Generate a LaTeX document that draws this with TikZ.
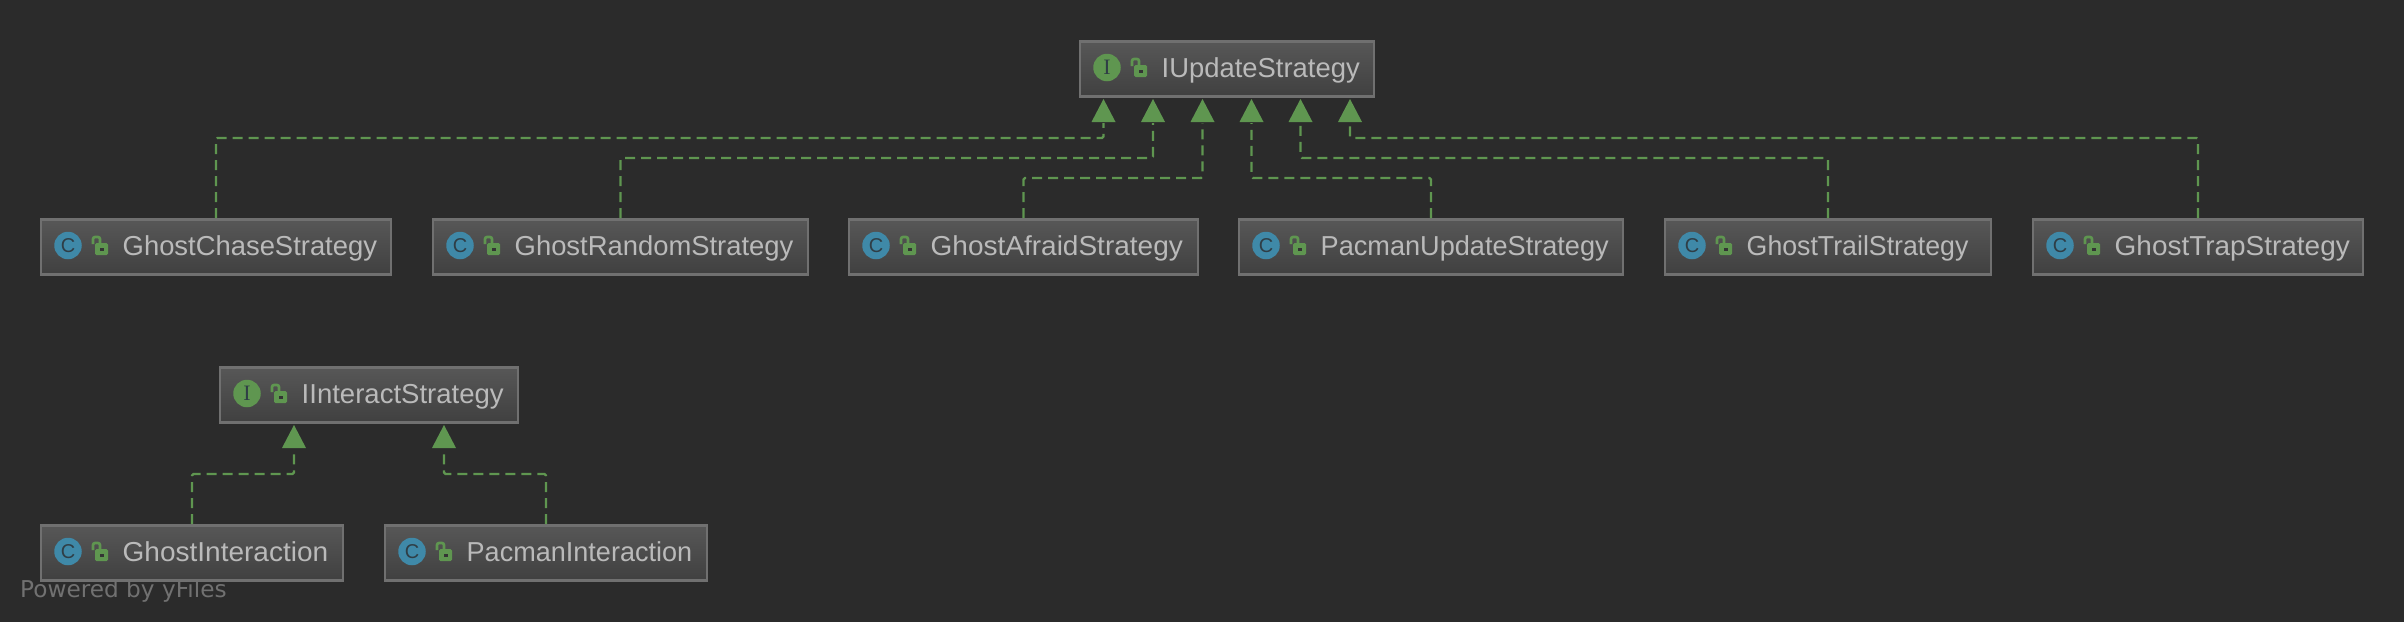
\documentclass[tikz,border=0pt]{standalone}
\usepackage{fontspec}
\setmainfont{Liberation Sans}
\newfontfamily\pwfont{DejaVu Sans}
\newfontfamily\ifont{Liberation Serif}
\usetikzlibrary{arrows.meta,calc}
\definecolor{bgc}{HTML}{2B2B2B}
\definecolor{edgegreen}{HTML}{5F9650}
\definecolor{boxline}{HTML}{707070}
\definecolor{boxtop}{HTML}{575757}
\definecolor{boxbot}{HTML}{404040}
\definecolor{labelc}{HTML}{BABABA}
\definecolor{cblue}{HTML}{3F89A8}
\definecolor{iconink}{HTML}{2F3E46}
\tikzset{
  x=1pt,y=-1pt,
  umlbox/.style={draw=boxline,line width=2.6pt,top color=boxtop,bottom color=boxbot,minimum height=55pt,inner sep=0pt,rectangle},
  umllabel/.style={inner sep=0pt,anchor=base west,text=labelc,font=\fontsize{27.4}{30}\selectfont},
  badge/.style={circle,inner sep=0pt,minimum size=27.5pt,text=iconink},
  realize/.style={draw=edgegreen,line width=2.4pt,dash pattern=on 10pt off 6pt,rounded corners=1.5pt},
  tiphead/.style={fill=edgegreen,draw=none},
  lockbody/.style={fill=edgegreen,draw=none,rounded corners=1.5pt},
  lockarm/.style={draw=edgegreen,line width=2.6pt,rounded corners=2pt}
}
\newcommand{\umlnode}[8]{% name, left, right, top, badge colour, letter, label, label x-scale
  \node[umlbox,minimum width={#3-#2}] (#1) at ({(#2+#3)/2},{#4+28}) {};
  \node[badge,fill=#5] (#1b) at ({#2+27},{#4+26.5}) {#6};
  \fill[lockbody] ({#2+54},{#4+24}) rectangle ({#2+67},{#4+36});
  \draw[lockarm] ({#2+52},{#4+25}) -- ({#2+52},{#4+18}) -- ({#2+59},{#4+18}) -- ({#2+59},{#4+24});
  \fill[bgc!60!boxbot] ({#2+59},{#4+28.5}) rectangle ({#2+62.5},{#4+31.5});
  \node[umllabel] (#1t) at ({#2+81.5},{#4+36}) {\scalebox{#8}[1]{#7}};
}
\newcommand{\tiparrow}[3]{% name, x, y of the tip
  \coordinate (#1) at (#2,{#3+24});
  \fill[tiphead] (#2,#3) -- ({#2+12},{#3+23}) -- ({#2-12},{#3+23}) -- cycle;
}
\newcommand{\letterI}{\ifont\fontsize{22}{22}\selectfont I}
\newcommand{\letterC}{\fontsize{20}{20}\selectfont C}
\begin{document}
\begin{tikzpicture}
\useasboundingbox (0,0) rectangle (2404,621.7);
\fill[bgc] (-5,-5) rectangle (2410,630);

\umlnode{iu}{1080}{1374}{41}{edgegreen}{\letterI}{IUpdateStrategy}{1}
\umlnode{gc}{41}{391}{219}{cblue}{\letterC}{GhostChaseStrategy}{1}
\umlnode{gr}{433}{808}{219}{cblue}{\letterC}{GhostRandomStrategy}{1}
\umlnode{ga}{849}{1198}{219}{cblue}{\letterC}{GhostAfraidStrategy}{1.022}
\umlnode{pu}{1239}{1623}{219}{cblue}{\letterC}{PacmanUpdateStrategy}{0.99}
\umlnode{gt}{1665}{1991}{219}{cblue}{\letterC}{GhostTrailStrategy}{0.975}
\umlnode{tr}{2033}{2363}{219}{cblue}{\letterC}{GhostTrapStrategy}{1.02}
\umlnode{ii}{220}{518}{367}{edgegreen}{\letterI}{IInteractStrategy}{1.005}
\umlnode{gi}{41}{343}{525}{cblue}{\letterC}{GhostInteraction}{1.022}
\umlnode{pi}{385}{707}{525}{cblue}{\letterC}{PacmanInteraction}{0.987}

\tiparrow{ta}{1103.5}{99}
\tiparrow{tb}{1153}{99}
\tiparrow{tc}{1202.5}{99}
\tiparrow{td}{1251.5}{99}
\tiparrow{te}{1300.5}{99}
\tiparrow{tf}{1350}{99}
\tiparrow{tg}{294}{425}
\tiparrow{th}{444}{425}

\draw[realize] (gc.north) |- (ta|-0,138) -- (ta);
\draw[realize] (gr.north) |- (tb|-0,158) -- (tb);
\draw[realize] (ga.north) |- (tc|-0,178) -- (tc);
\draw[realize] (pu.north) |- (td|-0,178) -- (td);
\draw[realize] (gt.north) |- (te|-0,158) -- (te);
\draw[realize] (tr.north) |- (tf|-0,138) -- (tf);
\draw[realize] (gi.north) |- (tg|-0,474) -- (tg);
\draw[realize] (pi.north) |- (th|-0,474) -- (th);

\node[inner sep=0pt,anchor=base west,text=white!33!bgc,font=\pwfont\fontsize{23.2}{26}\selectfont] (pw) at (20,597) {Powered by yFiles};
\end{tikzpicture}
\end{document}
